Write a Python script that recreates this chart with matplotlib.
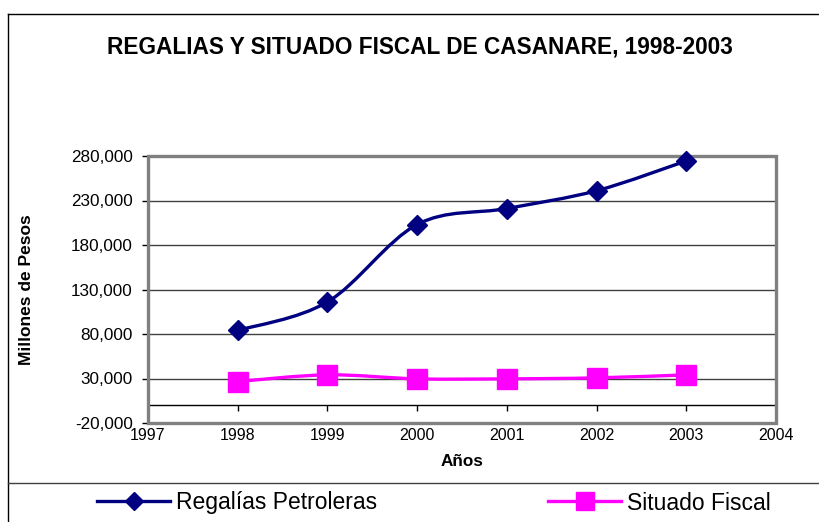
import matplotlib
matplotlib.use("Agg")
import matplotlib.pyplot as plt
import numpy as np
from matplotlib.path import Path
from matplotlib.patches import PathPatch, Rectangle
from matplotlib.lines import Line2D
from matplotlib.ticker import FuncFormatter

plt.rcParams['font.family'] = ['Liberation Sans', 'DejaVu Sans']

years = [1998, 1999, 2000, 2001, 2002, 2003]
regalias = [84000, 116000, 203000, 221000, 241000, 274500]
situado = [26600, 34100, 29600, 29600, 30700, 34100]
yticks = [-20000, 30000, 80000, 130000, 180000, 230000, 280000]
xticks = [1997, 1998, 1999, 2000, 2001, 2002, 2003, 2004]

W, H = 819, 522
fig = plt.figure(figsize=(W / 100, H / 100), dpi=100)
ax = fig.add_axes([148 / W, 1 - 423 / H, (776 - 148) / W, (423 - 156) / H])


def smooth_path(xs, ys):
    pts = np.column_stack([xs, ys]).astype(float)
    n = len(pts)
    verts = [pts[0]]
    codes = [Path.MOVETO]
    for i in range(n - 1):
        p0 = pts[i - 1] if i > 0 else pts[i]
        p1 = pts[i]
        p2 = pts[i + 1]
        p3 = pts[i + 2] if i + 2 < n else pts[i + 1]
        c1 = p1 + (p2 - p0) / 6.0
        c2 = p2 - (p3 - p1) / 6.0
        verts += [c1, c2, p2]
        codes += [Path.CURVE4] * 3
    return Path(verts, codes)


navy = '#000080'
pink = '#FF00FF'

ax.add_patch(PathPatch(smooth_path(years, regalias), facecolor='none',
                       edgecolor=navy, lw=2.4, zorder=3))
ax.add_patch(PathPatch(smooth_path(years, situado), facecolor='none',
                       edgecolor=pink, lw=2.4, zorder=3))
ax.plot(years, regalias, linestyle='none', marker='D', ms=10.5, color=navy,
        mec=navy, zorder=6, clip_on=False)
ax.plot(years, situado, linestyle='none', marker='s', ms=14, color=pink,
        mec=pink, zorder=6, clip_on=False)

ax.set_xlim(1997, 2004)
ax.set_ylim(-20000, 280000)
ax.set_yticks(yticks)
ax.set_xticks(xticks)
ax.yaxis.set_major_formatter(FuncFormatter(lambda v, p: f"{int(v):,}"))
ax.yaxis.grid(True, color='#404040', lw=1)
ax.set_axisbelow(True)

for s in ['top', 'right', 'left']:
    ax.spines[s].set_visible(False)
ax.spines['bottom'].set_position(('data', 0))
ax.spines['bottom'].set_color('black')
ax.spines['bottom'].set_linewidth(1)

ax.tick_params(axis='x', direction='out', length=4, width=1, pad=12.5,
               labelsize=11.5, colors='black')
ax.tick_params(axis='y', direction='out', length=4, width=1, pad=7,
               labelsize=12.3, colors='black')

ax.add_patch(Rectangle((0, 0), 1, 1, transform=ax.transAxes, fill=False,
                       edgecolor='#808080', lw=2.4, clip_on=False, zorder=5))

fig.text(420 / W, 1 - 47 / H, 'REGALIAS Y SITUADO FISCAL DE CASANARE, 1998-2003',
         ha='center', va='center', fontsize=16.3, fontweight='bold')
fig.text(462 / W, 1 - 462 / H, 'Años', ha='center', va='center',
         fontsize=12.3, fontweight='bold')
fig.text(27 / W, 1 - 290 / H, 'Millones de Pesos', ha='center', va='center',
         rotation=90, fontsize=12.5, fontweight='bold')

# chart and legend borders
fig.add_artist(Line2D([8 / W, 1], [1 - 14 / H, 1 - 14 / H], color='black', lw=1,
                      transform=fig.transFigure))
fig.add_artist(Line2D([8 / W, 8 / W], [1 - 14 / H, 0], color='black', lw=1,
                      transform=fig.transFigure))
fig.add_artist(Line2D([8 / W, 1], [1 - 483 / H, 1 - 483 / H], color='#404040',
                      lw=1, transform=fig.transFigure))

h1 = Line2D([], [], color=navy, lw=2.4, marker='D', ms=9)
h2 = Line2D([], [], color=pink, lw=2.4, marker='s', ms=12.5)
fig.legend([h1], ['Regalías Petroleras'], loc='center left',
           bbox_to_anchor=(97 / W, 1 - 503 / H), frameon=False, fontsize=16.5,
           handlelength=3.2, handletextpad=0.25, borderpad=0, borderaxespad=0)
fig.legend([h2], ['Situado Fiscal'], loc='center left',
           bbox_to_anchor=(548 / W, 1 - 503 / H), frameon=False, fontsize=16.5,
           handlelength=3.2, handletextpad=0.25, borderpad=0, borderaxespad=0)

fig.savefig('out.png', dpi=100)
